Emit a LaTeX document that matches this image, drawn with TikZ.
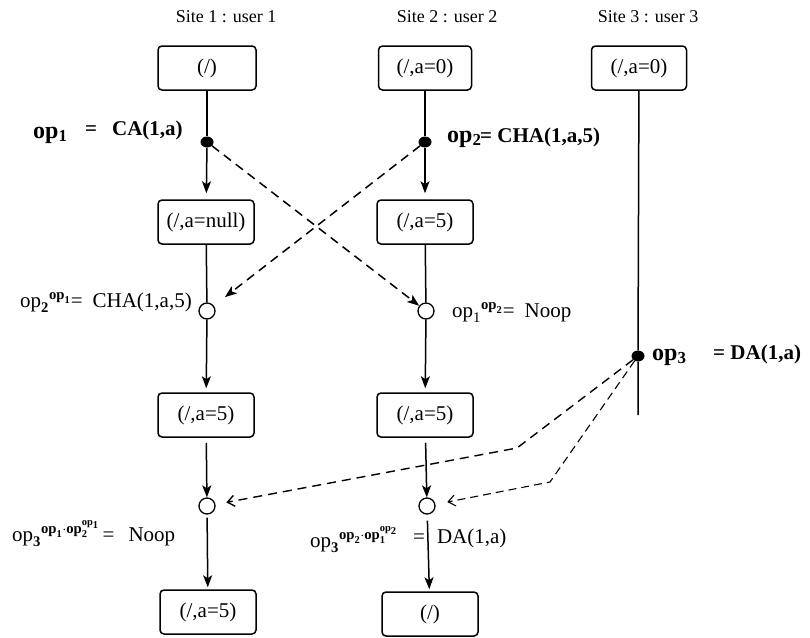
\documentclass[tikz,border=0pt]{standalone}
\usepackage{amsmath}
\usepackage{fontspec}
\setmainfont{Liberation Serif}
\usetikzlibrary{arrows.meta,shapes.geometric}
\begin{document}
\begin{tikzpicture}[x=1pt,y=-1pt,
  title/.style={font=\fontsize{18}{20}\selectfont, inner sep=0pt},
  state/.style={draw, rounded corners=4pt, line width=1.5pt, minimum width=96pt, minimum height=44pt, inner sep=0pt, font=\fontsize{21}{24}\selectfont},
  ev/.style={ellipse, fill=black, minimum width=13pt, minimum height=11pt, inner sep=0pt},
  rcv/.style={circle, draw, line width=1.3pt, minimum size=16pt, inner sep=0pt, fill=white},
  flow/.style={line width=1.5pt},
  arr/.style={flow, -{Stealth[length=12pt,width=9pt,inset=3pt]}},
  msg/.style={line width=1.5pt, dash pattern=on 9pt off 6pt, -{Stealth[length=12pt,width=9pt,inset=3pt]}},
  msgb/.style={line width=1.4pt, dash pattern=on 9pt off 6pt, -{Straight Barb[length=7pt,width=11pt]}},
  msgc/.style={line width=1.1pt, dash pattern=on 8pt off 5pt, -{Straight Barb[length=7pt,width=11pt]}},
  lbl/.style={font=\fontsize{21}{24}\selectfont, inner sep=0pt},
  blbl/.style={font=\bfseries\fontsize{21}{24}\selectfont, inner sep=0pt},
  bop/.style={font=\bfseries\fontsize{24}{26}\selectfont, inner sep=0pt}
]
\useasboundingbox (0,0) rectangle (810,637);

% titles
\node[title] (t1) at (226,17) {Site 1 : user 1};
\node[title] (t2) at (447,17) {Site 2 : user 2};
\node[title] (t3) at (648,17) {Site 3 : user 3};

% states
\node[state, minimum width=98pt] (s11) at (207,68) {(/)};
\node[state, minimum width=93pt] (s21) at (425,68) {(/,a=0)};
\node[state, minimum width=95pt] (s31) at (639,68) {(/,a=0)};
\node[state] (s12) at (206,222) {(/,a=null)};
\node[state] (s22) at (425,222) {(/,a=5)};
\node[state] (s13) at (206,415) {(/,a=5)};
\node[state] (s23) at (425,415) {(/,a=5)};
\node[state] (s14) at (208,612) {(/,a=5)};
\node[state] (s24) at (430,614) {(/)};

% events
\node[ev] (e1) at (207,142) {};
\node[ev] (e2) at (425,142) {};
\node[ev] (e3) at (638,356) {};
\node[rcv] (r12) at (207,311) {};
\node[rcv] (r22) at (426,311) {};
\node[rcv] (r13) at (207,506) {};
\node[rcv] (r23) at (427,506) {};
\coordinate (end3) at (638,415);
\coordinate (k1) at (517,448);
\coordinate (k2) at (550,482);

% site 1
\draw[flow] (s11) -- (e1);
\draw[arr, shorten >=6pt] (e1) -- (s12);
\draw[flow] (s12) -- (r12);
\draw[arr, shorten >=4pt] (r12) -- (s13);
\draw[arr, shorten <=5pt] (s13) -- (r13);
\draw[arr, shorten <=3pt, shorten >=2pt] (r13) -- (s14);
% site 2
\draw[flow] (s21) -- (e2);
\draw[arr, shorten >=6pt] (e2) -- (s22);
\draw[flow] (s22) -- (r22);
\draw[arr, shorten >=4pt] (r22) -- (s23);
\draw[arr, shorten <=5pt] (s23) -- (r23);
\draw[arr, shorten <=6pt, shorten >=2pt] (r23) -- (s24);
% site 3
\draw[flow] (s31) -- (e3) -- (end3);

% messages
\draw[msg] (e1) -- (r22);
\draw[msg, shorten >=14pt] (e2) -- (r12);
\draw[msgb, shorten >=11pt] (e3) -- (k1) -- (r13);
\draw[msgc, shorten >=12pt] (e3) -- (k2) -- (r23);

% labels
\node[bop, anchor=base west] (l1a) at (33,138) {op\textsubscript{1}};
\node[blbl, anchor=base west] (l1b) at (85,135) {=\hspace{15pt}CA(1,a)};
\node[bop, anchor=base west] (l2a) at (447,142) {op\textsubscript{2}};
\node[blbl, anchor=base west] (l2b) at (480,142) {= CHA(1,a,5)};
\node[bop, anchor=base west] (l3a) at (652,360) {op\textsubscript{3}};
\node[blbl, anchor=base west] (l3b) at (713,359) {= DA(1,a)};

\node[lbl, anchor=base west] (m1) at (20,307) {$\text{op}_{\textbf{2}}{}^{\textbf{op}_{\textbf{1}}}$=\hspace{10pt}CHA(1,a,5)};
\node[lbl, anchor=base west] (m2) at (452,317) {$\text{op}_{\text{1}}{}^{\textbf{op}_{\textbf{2}}}$=\hspace{10pt}Noop};
\node[lbl, anchor=base west] (m3) at (12,541) {$\text{op}_{\textbf{3}}{}^{\textbf{op}_{\textbf{1}}\cdot\textbf{op}_{\textbf{2}}^{\textbf{op}_{\textbf{1}}}}$\hspace{3pt}=\hspace{14pt}Noop};
\node[lbl, anchor=base west] (m4) at (310,547) {$\text{op}_{\textbf{3}}{}^{\textbf{op}_{\textbf{2}}\cdot\textbf{op}_{\textbf{1}}^{\textbf{op}_{\textbf{2}}}}$};
\node[lbl, anchor=base west] (m5) at (413,543) {=\hspace{12pt}DA(1,a)};
\end{tikzpicture}
\end{document}
